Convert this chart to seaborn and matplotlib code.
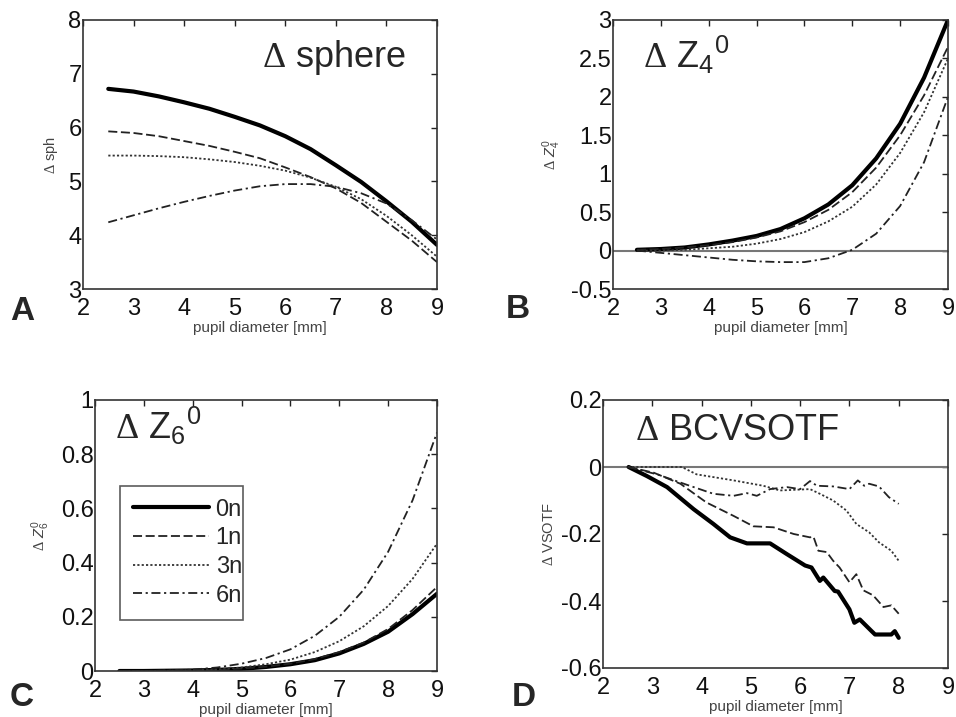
import numpy as np
import pandas as pd
import matplotlib
matplotlib.use("Agg")
import matplotlib.pyplot as plt
import seaborn as sns

sns.set_style("white")
plt.rcParams['font.family'] = ['Liberation Sans', 'DejaVu Sans']
plt.rcParams['mathtext.fontset'] = 'custom'
plt.rcParams['mathtext.rm'] = 'Liberation Serif'
plt.rcParams['mathtext.it'] = 'Liberation Sans:italic'
plt.rcParams['mathtext.bf'] = 'Liberation Sans:bold'
plt.rcParams['mathtext.default'] = 'regular'

series = ["0n", "1n", "3n", "6n"]

# Panel A: delta sphere
x_a = [2.5, 3, 3.5, 4, 4.5, 5, 5.5, 6, 6.5, 7, 7.5, 8, 8.5, 9]
sph_0n = [6.72, 6.67, 6.58, 6.47, 6.35, 6.20, 6.04, 5.84, 5.60, 5.30, 4.99, 4.63, 4.25, 3.82]
sph_1n = [5.93, 5.90, 5.84, 5.75, 5.66, 5.55, 5.43, 5.26, 5.08, 4.87, 4.60, 4.25, 3.90, 3.50]
sph_3n = [5.48, 5.48, 5.47, 5.45, 5.41, 5.36, 5.29, 5.20, 5.07, 4.90, 4.67, 4.36, 4.00, 3.60]
sph_6n = [4.24, 4.37, 4.50, 4.62, 4.73, 4.83, 4.91, 4.95, 4.95, 4.90, 4.78, 4.59, 4.28, 3.92]

# Panel B: delta Z4^0
z4_0n = [0.01, 0.02, 0.04, 0.08, 0.13, 0.19, 0.28, 0.42, 0.60, 0.85, 1.20, 1.65, 2.25, 3.00]
z4_1n = [0.01, 0.02, 0.04, 0.07, 0.11, 0.17, 0.25, 0.37, 0.53, 0.76, 1.08, 1.50, 2.02, 2.65]
z4_3n = [0.00, 0.00, 0.01, 0.03, 0.05, 0.09, 0.15, 0.24, 0.38, 0.57, 0.86, 1.27, 1.80, 2.50]
z4_6n = [0.00, -0.03, -0.06, -0.09, -0.12, -0.14, -0.15, -0.15, -0.10, 0.01, 0.22, 0.58, 1.15, 2.00]

# Panel C: delta Z6^0
z6_0n = [0.0, 0.0, 0.001, 0.002, 0.004, 0.008, 0.015, 0.025, 0.040, 0.065, 0.100, 0.145, 0.210, 0.285]
z6_1n = [0.0, 0.0, 0.001, 0.002, 0.004, 0.009, 0.016, 0.027, 0.044, 0.070, 0.105, 0.155, 0.225, 0.310]
z6_3n = [0.0, 0.0, 0.001, 0.003, 0.006, 0.013, 0.025, 0.042, 0.070, 0.110, 0.165, 0.240, 0.340, 0.470]
z6_6n = [0.0, 0.0, 0.002, 0.005, 0.013, 0.027, 0.048, 0.080, 0.130, 0.200, 0.300, 0.440, 0.630, 0.880]

# Panel D: delta BCVSOTF
x_d0 = [2.52, 2.89, 3.3, 3.84, 4.24, 4.58, 4.92, 5.39, 5.73, 6.1, 6.23, 6.4, 6.47, 6.7, 6.77, 7.0, 7.1, 7.21, 7.45, 7.52, 7.85, 7.92, 8.0]
d_0n = [0.0, -0.027, -0.06, -0.126, -0.17, -0.21, -0.228, -0.228, -0.26, -0.294, -0.30, -0.34, -0.33, -0.37, -0.372, -0.425, -0.465, -0.455, -0.49, -0.50, -0.50, -0.49, -0.51]
x_d1 = [2.52, 3.03, 3.57, 4.1, 4.65, 5.05, 5.46, 5.87, 6.2, 6.27, 6.37, 6.54, 6.67, 6.8, 7.0, 7.14, 7.28, 7.48, 7.69, 7.85, 8.0]
d_1n = [0.0, -0.017, -0.05, -0.106, -0.146, -0.177, -0.18, -0.20, -0.21, -0.208, -0.25, -0.254, -0.28, -0.30, -0.344, -0.32, -0.368, -0.383, -0.418, -0.413, -0.438]
x_d3 = [2.5, 3.0, 3.6, 3.9, 4.65, 5.25, 5.59, 6.2, 6.4, 6.67, 6.94, 7.14, 7.4, 7.6, 7.85, 8.0]
d_3n = [0.0, 0.0, 0.0, -0.022, -0.04, -0.056, -0.07, -0.066, -0.08, -0.10, -0.13, -0.17, -0.195, -0.225, -0.25, -0.28]
x_d6 = [2.5, 3.1, 3.7, 4.24, 4.65, 4.92, 5.12, 5.39, 5.73, 6.0, 6.2, 6.34, 6.67, 7.0, 7.17, 7.3, 7.4, 7.6, 7.8, 8.0]
d_6n = [0.0, -0.022, -0.053, -0.08, -0.086, -0.078, -0.086, -0.066, -0.06, -0.066, -0.042, -0.056, -0.058, -0.066, -0.04, -0.056, -0.05, -0.058, -0.09, -0.11]

colors = {"0n": "#000000", "1n": "#222222", "3n": "#333333", "6n": "#222222"}
dashes = {"0n": "", "1n": (5, 2), "3n": (1.2, 1.2), "6n": (5, 2, 1.2, 2)}
sizes = {"0n": 3.0, "1n": 1.3, "3n": 1.3, "6n": 1.3}


def long_df(xs, ys):
    rows = []
    for s, xv, yv in zip(series, xs, ys):
        for a, b in zip(xv, yv):
            rows.append((s, a, b))
    return pd.DataFrame(rows, columns=["series", "x", "y"])


fig = plt.figure(figsize=(9.56, 7.17), dpi=100)
W, H = 956, 717


def add_ax(l, t, r, b):
    return fig.add_axes([l / W, (H - b) / H, (r - l) / W, (b - t) / H])


axA = add_ax(83, 20, 437, 289)
axB = add_ax(613, 20, 948, 289)
axC = add_ax(95, 400, 437, 671)
axD = add_ax(603, 400, 948, 668)

panels = [
    (axA, long_df([x_a] * 4, [sph_0n, sph_1n, sph_3n, sph_6n])),
    (axB, long_df([x_a] * 4, [z4_0n, z4_1n, z4_3n, z4_6n])),
    (axC, long_df([x_a] * 4, [z6_0n, z6_1n, z6_3n, z6_6n])),
    (axD, long_df([x_d0, x_d1, x_d3, x_d6], [d_0n, d_1n, d_3n, d_6n])),
]

for ax in (axB, axD):
    ax.axhline(0, color="#777777", lw=1.5, zorder=1)

for ax, df in panels:
    sns.lineplot(data=df, x="x", y="y", hue="series", style="series", size="series",
                 palette=colors, dashes=dashes, sizes=sizes, hue_order=series,
                 style_order=series, size_order=series, legend=False, ax=ax,
                 estimator=None, sort=False)

ylims = [(3, 8), (-0.5, 3), (0, 1), (-0.6, 0.2)]
yticks = [[3, 4, 5, 6, 7, 8],
          [-0.5, 0, 0.5, 1, 1.5, 2, 2.5, 3],
          [0, 0.2, 0.4, 0.6, 0.8, 1],
          [-0.6, -0.4, -0.2, 0, 0.2]]
ytl = [["3", "4", "5", "6", "7", "8"],
       ["-0.5", "0", "0.5", "1", "1.5", "2", "2.5", "3"],
       ["0", "0.2", "0.4", "0.6", "0.8", "1"],
       ["-0.6", "-0.4", "-0.2", "0", "0.2"]]
ylabels = [r"$\mathrm{\Delta}$ sph", r"$\mathrm{\Delta}\ \mathit{Z}_4^0$",
           r"$\mathrm{\Delta}\ \mathit{Z}_6^0$", r"$\mathrm{\Delta}$ VSOTF"]
ylab_x = [60, 563, 52, 556]
ax_lefts = [83, 613, 95, 603]
ax_widths = [354, 335, 342, 345]

for i, ax in enumerate([axA, axB, axC, axD]):
    ax.set_xlim(2, 9)
    ax.set_ylim(*ylims[i])
    ax.set_xticks(range(2, 10))
    ax.set_xticklabels([str(v) for v in range(2, 10)])
    ax.set_yticks(yticks[i])
    ax.set_yticklabels(ytl[i])
    ax.tick_params(direction="in", length=4, width=1, top=True, right=True,
                   labelsize=17, colors="#222222", labelcolor="#111111")
    ax.tick_params(axis="x", pad=6.5)
    ax.tick_params(axis="y", pad=1)
    for sp in ax.spines.values():
        sp.set_visible(True)
        sp.set_color("#333333")
        sp.set_linewidth(1.2)
    ax.set_xlabel("pupil diameter [mm]", fontsize=11, color="#444444", labelpad=1)
    ax.set_ylabel(ylabels[i], fontsize=10.5, color="#444444")
    ax.yaxis.set_label_coords((ylab_x[i] - ax_lefts[i]) / ax_widths[i], 0.5)

# titles inside
D = r"$\mathrm{\Delta}$"
axA.text(0.505, 0.86, D + " sphere", transform=axA.transAxes, fontsize=26, va="center", ha="left")
axB.text(0.09, 0.82, D + " Z$_4$$^0$", transform=axB.transAxes, fontsize=26, va="baseline", ha="left")
axC.text(0.058, 0.856, D + " Z$_6$$^0$", transform=axC.transAxes, fontsize=26, va="baseline", ha="left")
axD.text(0.093, 0.85, D + " BCVSOTF", transform=axD.transAxes, fontsize=26, va="baseline", ha="left")

# legend in C
handles = axC.get_lines()[:4]
leg = axC.legend(handles, series, loc="lower left", bbox_to_anchor=(0.073, 0.19, 0.36, 0.485),
                 mode="expand", fontsize=17, frameon=True, fancybox=False, handlelength=3.2,
                 handletextpad=0.3, labelspacing=0.28, borderpad=0.55, borderaxespad=0)
leg.get_frame().set_edgecolor("#333333")
leg.get_frame().set_linewidth(1.2)

# panel letters
for letter, (px, py) in zip("ABCD", [(22, 312), (518, 309), (22, 697), (524, 697)]):
    fig.text(px / W, 1 - py / H, letter, fontsize=24, fontweight="bold", ha="center", va="center")

fig.savefig("out.png", dpi=100)
